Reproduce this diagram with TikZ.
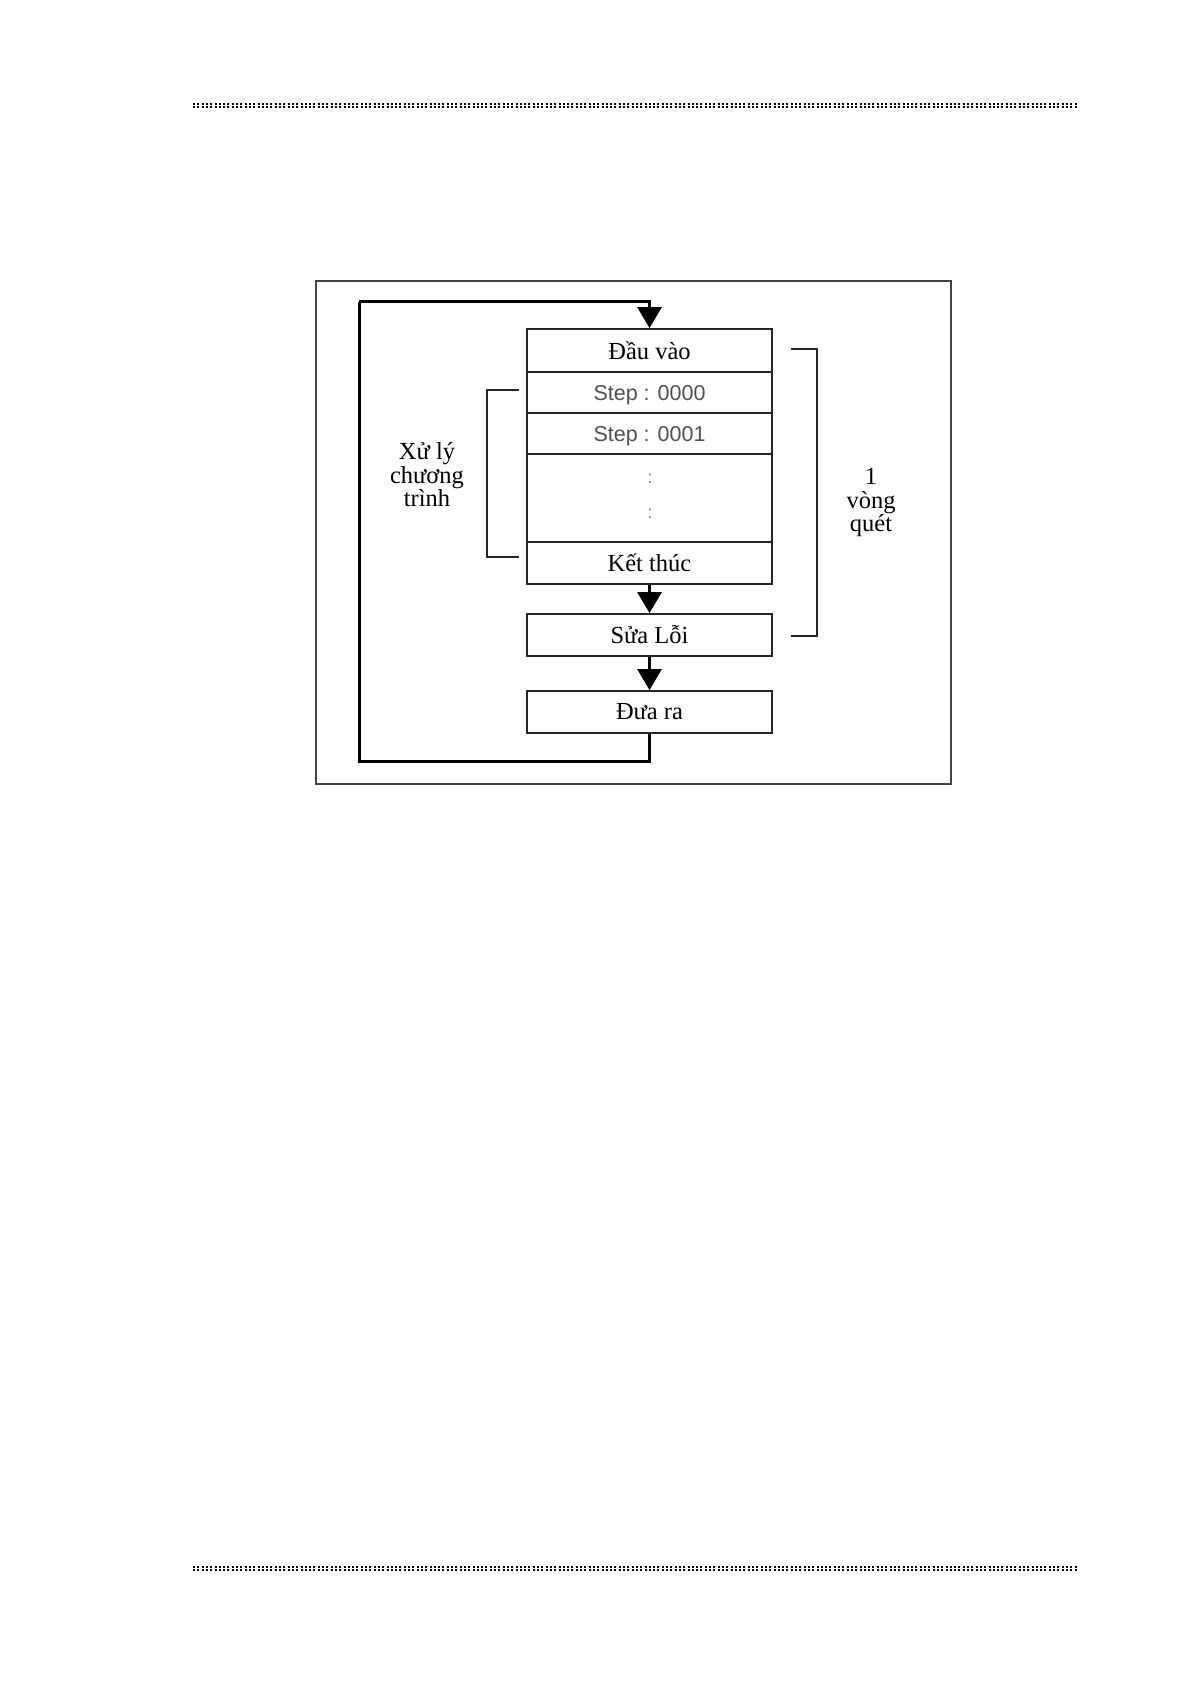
\documentclass[tikz,border=0pt]{standalone}
\usepackage{fontspec}
\setmainfont{Liberation Serif}
\newfontfamily\stepfont{Liberation Sans}
\usetikzlibrary{arrows.meta}
\definecolor{stepgray}{HTML}{505050}
\definecolor{framegray}{HTML}{444444}
\begin{document}
\begin{tikzpicture}[x=1pt,y=-1pt,
  blk/.style={draw=black!85,line width=1.8pt,minimum width=245pt,inner sep=0pt,font=\fontsize{24.5}{26}\selectfont},
  steptext/.style={font=\stepfont\fontsize{21.5}{24}\selectfont,text=stepgray},
  flow/.style={line width=3pt,-{Triangle[width=24pt,length=21pt]}},
  loopline/.style={line width=3pt},
  brack/.style={line width=1.6pt,draw=black!85},
  lbl/.style={align=center,font=\fontsize{24.5}{23.5}\selectfont,inner sep=0pt},
  hdr/.style={line width=1.4pt,dash pattern=on 2pt off 2.3pt}
]
\path[fill=white,use as bounding box] (0,0) rectangle (1191,1685);
% header / footer dotted rules
\draw[hdr] (193,104) -- (1077,104);
\draw[hdr] (193,107) -- (1077,107);
\draw[hdr] (193,1567) -- (1077,1567);
\draw[hdr] (193,1570) -- (1077,1570);
% frame
\draw[draw=framegray,line width=1.5pt] (316,281) rectangle (951,784);
% blocks
\node[blk,minimum height=43pt] (in) at (649.5,350.5) {Đầu vào};
\node[blk,minimum height=41pt] (s0) at (649.5,392.5) {};
\node[blk,minimum height=41pt] (s1) at (649.5,433.5) {};
\node[steptext] (s0t) at ([yshift=-3pt]s0.center) {Step : 0000};
\node[steptext] (s1t) at ([yshift=-3pt]s1.center) {Step : 0001};
\node[blk,minimum height=88pt] (dots) at (649.5,498) {};
\node[blk,minimum height=42pt] (end) at (649.5,563) {Kết thúc};
\node[blk,minimum height=42pt] (fix) at (649.5,635) {Sửa Lỗi};
\node[blk,minimum height=42pt] (out) at (649.5,712) {Đưa ra};
\node[font=\stepfont\fontsize{18}{20}\selectfont,text=gray] (d1) at (650,479) {:};
\node[font=\stepfont\fontsize{18}{20}\selectfont,text=gray] (d2) at (650,514) {:};
% arrows
\draw[flow] (end.south) -- (fix.north);
\draw[flow] (fix.south) -- (out.north);
\coordinate (c1) at (359,761);
\coordinate (c2) at (359,302);
\draw[loopline] (out.south) |- (c1) -- (c2);
\draw[flow] (c2) -| (in.north);
% brackets
\coordinate (lb1) at (519,390);
\coordinate (lb2) at (519,557);
\draw[brack] (lb1) -- (487,390) -- (487,557) -- (lb2);
\coordinate (rb1) at (791,349);
\coordinate (rb2) at (791,636);
\draw[brack] (rb1) -- (817,349) -- (817,636) -- (rb2);
% labels
\node[lbl] (xl) at (427,475) {Xử lý\\chương\\trình};
\node[lbl] (vq) at (871,503) {1\\vòng\\quét};
\end{tikzpicture}
\end{document}
